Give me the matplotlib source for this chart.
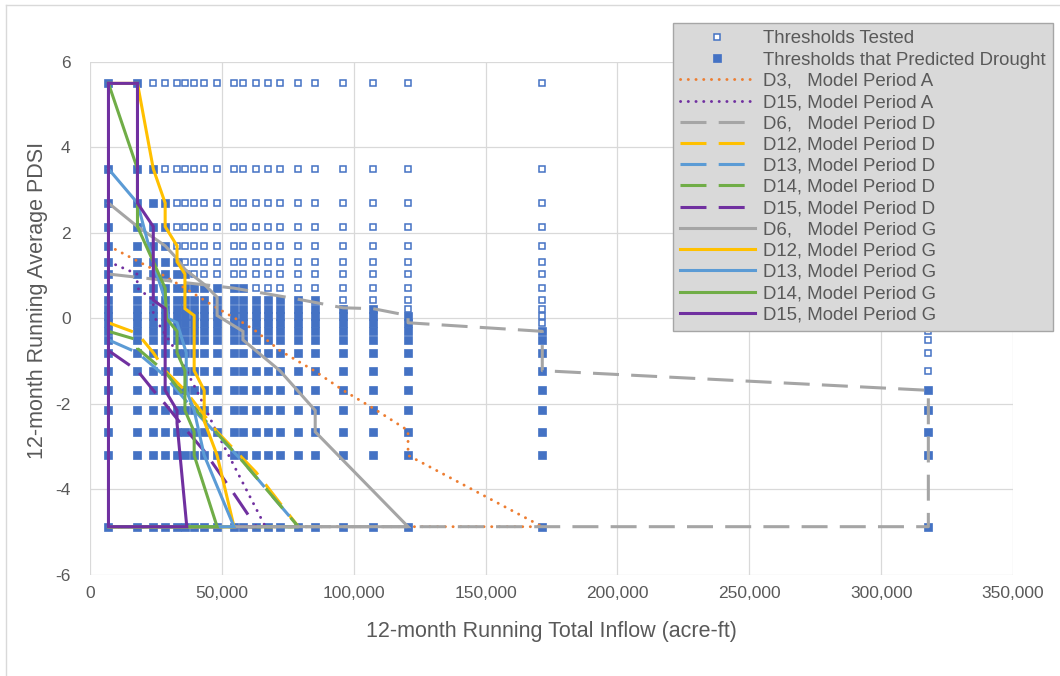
import matplotlib
matplotlib.use("Agg")
import matplotlib.pyplot as plt
from matplotlib.lines import Line2D
from matplotlib.ticker import FuncFormatter

# threshold grid (inflow columns x PDSI levels)
col_x = [7000, 18000, 24000, 28500, 33000, 36000, 39500, 43300, 48200, 54600, 58000,
         63000, 67500, 72000, 79000, 85400, 96000, 107400, 120600, 171500, 317900]
pdsi_levels = [5.5, 3.5, 2.7, 2.15, 1.7, 1.33, 1.04, 0.71, 0.43, 0.23, 0.07,
               -0.1, -0.3, -0.5, -0.8, -1.22, -1.68, -2.15, -2.65, -3.2, -4.87]
# highest PDSI level in each column that predicted drought
drought_top = [5.5, 5.5, 3.5, 2.7, 1.33, 1.04, 0.71, 0.71, 0.71, 0.71, 0.71,
               0.43, 0.43, 0.43, 0.43, 0.43, 0.23, 0.23, 0.07, -0.3, -1.68]

# boundary lines
d3_a_x = [7000, 24000, 36000, 48000, 58000, 63000, 72000, 85000, 96000, 107400, 120600, 120600, 171500, 7000]
d3_a_y = [1.7, 1.15, 0.71, 0.25, -0.1, -0.3, -0.75, -1.22, -1.68, -2.1, -2.62, -3.2, -4.87, -4.87]
d15_a_x = [7000, 17800, 18000, 24000, 24000, 33000, 41000, 48000, 66500, 7000]
d15_a_y = [1.33, 1.04, 0.71, 0.43, 0.07, -0.8, -1.75, -2.65, -4.87, -4.87]

d6_d_x = [7000, 54600, 79000, 96000, 107400, 120600, 120600, 171500, 171500, 317900, 317900, 7000]
d6_d_y = [1.04, 0.71, 0.45, 0.25, 0.23, 0.07, -0.1, -0.3, -1.22, -1.68, -4.87, -4.87]
d12_d_x = [7000, 18000, 24000, 28500, 36000, 48200, 63000, 79000, 7000]
d12_d_y = [-0.1, -0.35, -0.8, -1.22, -1.68, -2.65, -3.6, -4.87, -4.87]
d13_d_x = [7000, 18000, 28500, 39500, 58000, 79000, 7000]
d13_d_y = [-0.5, -0.8, -1.35, -2.15, -3.35, -4.87, -4.87]
d14_d_x = [7000, 18000, 18000, 28500, 39500, 58000, 79000, 7000]
d14_d_y = [-0.3, -0.5, -0.7, -1.25, -2.1, -3.35, -4.87, -4.87]
d15_d_x = [7000, 18000, 24000, 28500, 35000, 43300, 54600, 63000, 7000]
d15_d_y = [-0.75, -1.22, -1.68, -2.0, -2.5, -3.1, -4.1, -4.87, -4.87]

d6_g_x = [7000, 18000, 28500, 33000, 36000, 43300, 48200, 48200, 58000, 58000, 72000, 85400, 85400, 120600, 7000]
d6_g_y = [2.7, 2.15, 1.7, 1.4, 1.15, 0.8, 0.5, 0.07, -0.3, -0.5, -1.22, -2.15, -2.65, -4.87, -4.87]
d12_g_x = [7000, 18000, 24000, 28500, 28500, 33000, 33000, 36000, 36000, 39500, 39500, 43300, 43300, 48200, 54600, 7000]
d12_g_y = [5.5, 5.5, 3.5, 2.7, 2.15, 1.7, 1.33, 1.04, 0.23, 0.07, -1.22, -1.68, -2.4, -3.2, -4.87, -4.87]
d13_g_x = [7000, 18000, 24000, 28500, 29700, 33000, 36500, 36500, 39500, 43300, 54600, 7000]
d13_g_y = [3.5, 2.7, 1.3, 0.43, 0.0, -0.1, -0.8, -1.68, -2.15, -3.2, -4.87, -4.87]
d14_g_x = [7000, 18000, 18000, 28500, 29000, 33000, 33000, 36000, 36000, 39500, 39500, 48200, 7000]
d14_g_y = [5.5, 3.5, 2.15, 0.71, 0.0, -0.3, -0.8, -1.22, -2.15, -2.65, -3.2, -4.87, -4.87]
d15_g_x = [7000, 18000, 18000, 24000, 24000, 28500, 28500, 33000, 33000, 36700, 7000, 7000]
d15_g_y = [5.5, 5.5, 2.7, 2.15, 0.43, 0.23, -1.68, -2.15, -2.45, -4.87, -4.87, 5.5]

plt.rcParams["font.family"] = ["Liberation Sans", "DejaVu Sans"]
plt.rcParams["axes.unicode_minus"] = False
TXT = "#595959"
BLUE = "#4472C4"

fig = plt.figure(figsize=(10.6, 6.76), dpi=100)
ax = fig.add_axes([90 / 1060, 1 - 575 / 676, 923 / 1060, 513 / 676])

# split grid into tested-only and drought points
tx, ty, fx, fy = [], [], [], []
for cx, top in zip(col_x, drought_top):
    for lv in pdsi_levels:
        if lv <= top + 1e-9:
            fx.append(cx)
            fy.append(lv)
        else:
            tx.append(cx)
            ty.append(lv)

ax.plot(tx, ty, ls="none", marker="s", ms=5.0, mfc="white", mec=BLUE, mew=1.1,
        zorder=3, label="Thresholds Tested", clip_on=False)
ax.plot(fx, fy, ls="none", marker="s", ms=5.8, mfc=BLUE, mec=BLUE, mew=0.5,
        zorder=4, label="Thresholds that Predicted Drought", clip_on=False)

LW = 2.2
DOT = dict(lw=2.1, dashes=(0.05, 2.6), dash_capstyle="round")
DASH = dict(lw=LW, dashes=(8.5, 4.0))
SOLID = dict(lw=LW, solid_joinstyle="miter")

series = [
    (d3_a_x, d3_a_y, "#ED7D31", DOT, "D3,   Model Period A"),
    (d15_a_x, d15_a_y, "#7030A0", DOT, "D15, Model Period A"),
    (d6_d_x, d6_d_y, "#A5A5A5", DASH, "D6,   Model Period D"),
    (d12_d_x, d12_d_y, "#FFC000", DASH, "D12, Model Period D"),
    (d13_d_x, d13_d_y, "#5B9BD5", DASH, "D13, Model Period D"),
    (d14_d_x, d14_d_y, "#70AD47", DASH, "D14, Model Period D"),
    (d15_d_x, d15_d_y, "#7030A0", DASH, "D15, Model Period D"),
    (d6_g_x, d6_g_y, "#A5A5A5", SOLID, "D6,   Model Period G"),
    (d12_g_x, d12_g_y, "#FFC000", SOLID, "D12, Model Period G"),
    (d13_g_x, d13_g_y, "#5B9BD5", SOLID, "D13, Model Period G"),
    (d14_g_x, d14_g_y, "#70AD47", SOLID, "D14, Model Period G"),
    (d15_g_x, d15_g_y, "#7030A0", SOLID, "D15, Model Period G"),
]
for i, (xs, ys, c, st, lab) in enumerate(series):
    ax.plot(xs, ys, color=c, label=lab, zorder=5 + i, clip_on=False, **st)

ax.set_xlim(0, 350000)
ax.set_ylim(-6, 6)
ax.set_xticks(range(0, 350001, 50000))
ax.set_yticks(range(-6, 7, 2))
ax.xaxis.set_major_formatter(FuncFormatter(lambda v, p: f"{int(v):,}"))
ax.grid(True, color="#D9D9D9", lw=0.9, zorder=0)
ax.set_axisbelow(True)
for s in ax.spines.values():
    s.set_visible(False)
ax.tick_params(length=0, labelsize=12.5, labelcolor=TXT)
ax.tick_params(axis="y", pad=14)
ax.tick_params(axis="x", pad=8)
ax.set_xlabel("12-month Running Total Inflow (acre-ft)", fontsize=15.5, color=TXT)
ax.set_ylabel("12-month Running Average PDSI", fontsize=15.5, color=TXT)
ax.xaxis.set_label_coords(0.5, -0.09)
ax.yaxis.set_label_coords(-0.046, 0.535)

# chart area border
fig.add_artist(Line2D([6 / 1060, 6 / 1060], [0, 1 - 5 / 676], transform=fig.transFigure, color="#D9D9D9", lw=1))
fig.add_artist(Line2D([6 / 1060, 1], [1 - 5 / 676, 1 - 5 / 676], transform=fig.transFigure, color="#D9D9D9", lw=1))

leg = fig.legend(loc="upper right", bbox_to_anchor=(1053 / 1060, 1 - 23 / 676),
                 fontsize=13.4, frameon=True, fancybox=False, framealpha=1,
                 facecolor="#D9D9D9", edgecolor="#A6A6A6", handlelength=4.0,
                 handletextpad=0.45, labelspacing=0.225, borderpad=0.4,
                 borderaxespad=0, markerscale=1.0)
leg.set_zorder(50)
for t in leg.get_texts():
    t.set_color(TXT)

fig.savefig("out.png", dpi=100)
